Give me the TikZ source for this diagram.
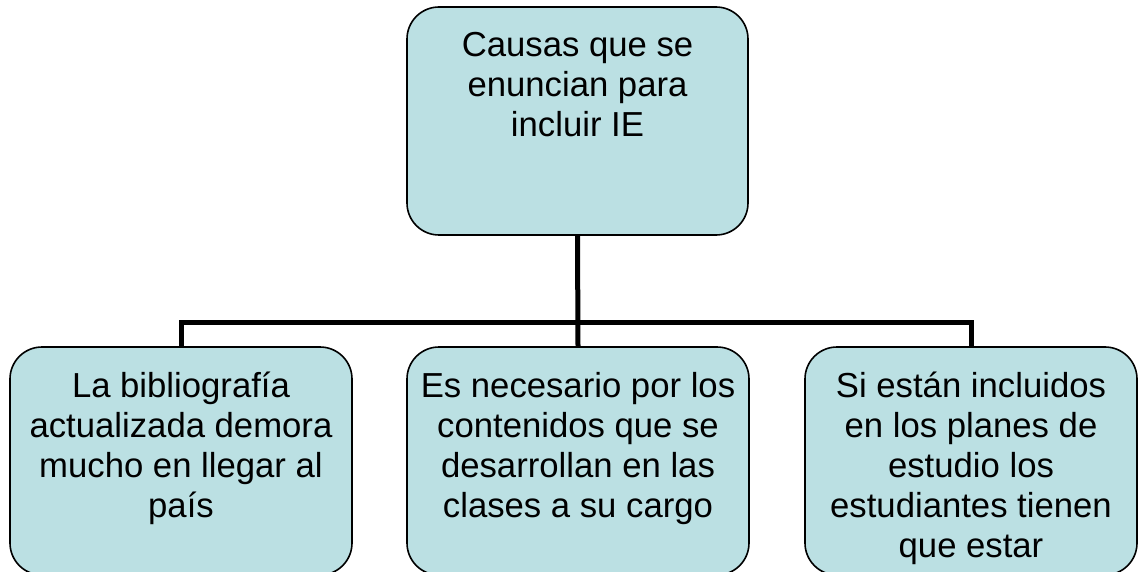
\documentclass[tikz,border=0pt]{standalone}
\usepackage{fontspec}
\setmainfont{Liberation Sans}
\definecolor{boxfill}{HTML}{BBE0E3}
\begin{document}
\begin{tikzpicture}[x=1pt,y=-1pt,
  box/.style={draw=black, line width=1.6pt, fill=boxfill, rounded corners=32pt, inner sep=0pt},
  txt/.style={align=center, inner sep=0pt, anchor=north, font=\fontsize{34.7}{40}\selectfont},
  conn/.style={line width=5pt}]
\useasboundingbox (0,0) rectangle (1138,572);
\clip (0,0) rectangle (1138,572);
\node[box, minimum width=341pt, minimum height=228pt] (top) at (577.5,121) {};
\node[box, minimum width=342pt, minimum height=228pt] (left) at (181,461) {};
\node[box, minimum width=342pt, minimum height=228pt] (mid) at (578,461) {};
\node[box, minimum width=332pt, minimum height=228pt] (right) at (971,461) {};
\node[txt] (ttop) at (577.5,32) {Causas que se\\enuncian para\\incluir IE};
\node[txt] (tleft) at (181,372) {La bibliografía\\actualizada demora\\mucho en llegar al\\país};
\node[txt] (tmid) at (578,372) {Es necesario por los\\contenidos que se\\desarrollan en las\\clases a su cargo};
\node[txt] (tright) at (971,372) {Si están incluidos\\en los planes de\\estudio los\\estudiantes tienen\\que estar};
\draw[conn] (top.south) -- (mid.north);
\draw[conn] (left.north) -- ++(0,-24) -| (right.north);
\end{tikzpicture}
\end{document}
